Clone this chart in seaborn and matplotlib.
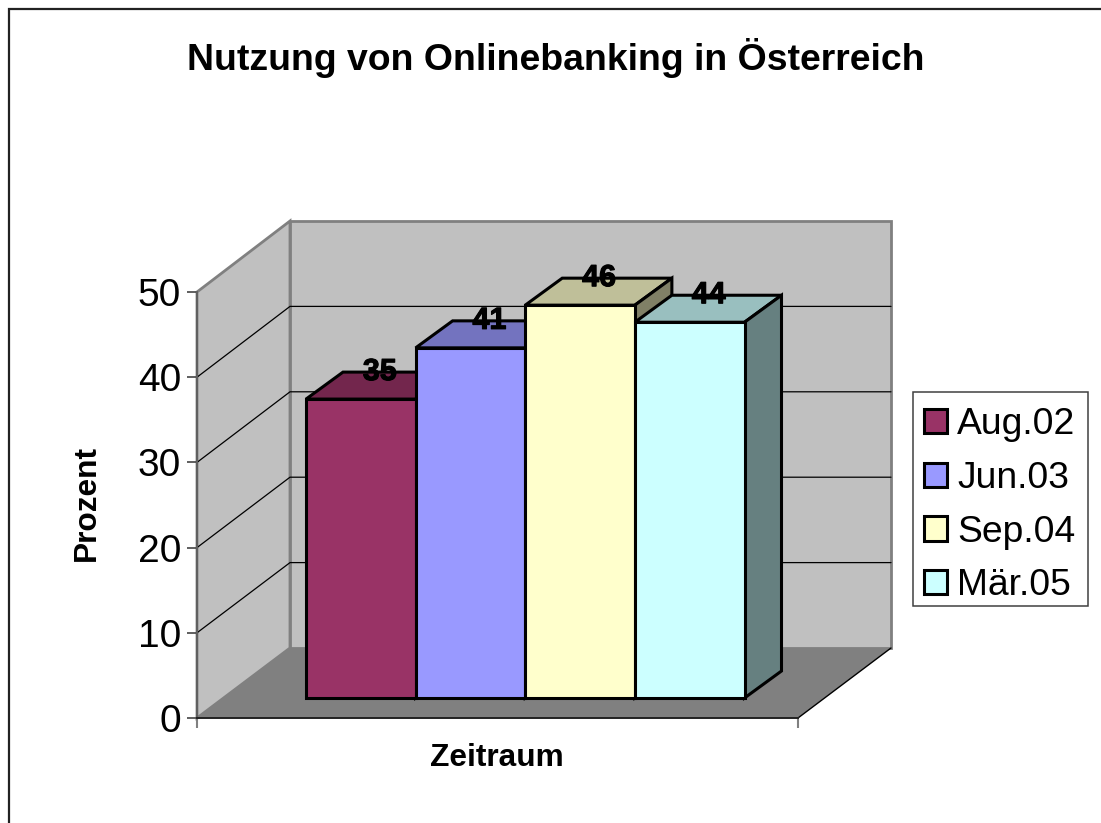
import matplotlib
matplotlib.use("Agg")
import matplotlib.pyplot as plt
import matplotlib.patheffects as pe
import pandas as pd
import seaborn as sns
from matplotlib.colors import to_rgb
from matplotlib.patches import Patch, Polygon, Rectangle
from matplotlib.transforms import IdentityTransform

zeitraum = ["Aug.02", "Jun.03", "Sep.04", "Mär.05"]
prozent = [35, 41, 46, 44]
farben = ["#993366", "#9999FF", "#FFFFCC", "#CCFFFF"]
y_ticks = [0, 10, 20, 30, 40, 50]

W, H = 1101, 823
DEPTH_X, DEPTH_Y = 37, 27  # bar depth in pixels

sns.set_theme(style="white")
plt.rcParams["font.family"] = ["Liberation Sans", "DejaVu Sans"]
plt.rcParams["text.color"] = "black"
plt.rcParams["axes.labelcolor"] = "black"
plt.rcParams["xtick.labelcolor"] = "black"
plt.rcParams["ytick.labelcolor"] = "black"

df = pd.DataFrame({"gruppe": [""] * 4, "zeitraum": zeitraum, "prozent": prozent})


def px_axes(fig, left, right, top, bottom, **kw):
    # axes placed with image pixel coordinates
    return fig.add_axes([left / W, 1 - bottom / H, (right - left) / W, (bottom - top) / H], **kw)


fig = plt.figure(figsize=(W / 100, H / 100), dpi=100, facecolor="white")

# walls and floor, in pixels
bg = px_axes(fig, 0, W, 0, H, zorder=0)
bg.set_xlim(0, W)
bg.set_ylim(H, 0)
bg.set_axis_off()
bg.plot([9, 9, W], [H, 9, 9], color="#222222", lw=1.6, solid_joinstyle="miter")
wall_kw = dict(fc="#C0C0C0", ec="#808080", lw=2.0, joinstyle="miter")
bg.add_patch(Polygon([(197, 718), (197, 292), (290, 221), (290, 648)], **wall_kw))
bg.add_patch(Polygon([(290, 648), (290, 221), (891, 221), (891, 648)], **wall_kw))
bg.add_patch(Polygon([(197, 718), (290, 648), (891, 648), (798, 718)], fc="#808080", ec="none"))
bg.plot([798, 891], [718, 648], color="black", lw=1.0)
bg.add_patch(Rectangle((913, 392), 175, 214, fc="white", ec="#404040", lw=1.1))
for v in y_ticks[1:-1]:
    front_y = 718 - v * 426 / 50
    back_y = 648 - v * 427 / 50
    bg.plot([197, 290, 891], [front_y, back_y, back_y], color="black", lw=0.9, solid_joinstyle="miter")

# value axis on the front plane
front = px_axes(fig, 197, 798, 292, 718, zorder=1)
front.patch.set_visible(False)
front.set_xlim(0, 1)
front.set_ylim(0, 50)
front.set_xticks([0, 1], ["", ""])
front.set_yticks(y_ticks)
front.tick_params(axis="y", length=7, width=1.2, color="#444444", labelsize=28, pad=4.5, left=True)
front.tick_params(axis="x", length=7, width=1.5, color="#808080", bottom=True)
for side in ["top", "right"]:
    front.spines[side].set_visible(False)
front.spines["left"].set_color("#606060")
front.spines["left"].set_linewidth(1.4)
front.spines["bottom"].set_color("#222222")
front.spines["bottom"].set_linewidth(1.4)
front.set_xlabel("Zeitraum", fontsize=22.8, fontweight="bold")
front.xaxis.set_label_coords((497 - 197) / 601, -(758 - 718) / 426, transform=front.transAxes)
front.xaxis.label.set_verticalalignment("center")
front.set_ylabel("Prozent", fontsize=22.8, fontweight="bold")
front.yaxis.set_label_coords((87 - 197) / 601, (718 - 503) / 426, transform=front.transAxes)
front.yaxis.label.set_verticalalignment("center")

# bars: front faces come from seaborn
ax = px_axes(fig, 306, 744.5, 271, 698, zorder=2)
sns.barplot(data=df, x="gruppe", y="prozent", hue="zeitraum", hue_order=zeitraum, palette=farben,
            width=1, gap=0, saturation=1, edgecolor="black", linewidth=2.2, legend=False, ax=ax)
ax.set_xlim(-0.5, 0.5)
ax.set_ylim(0, 50)
ax.set_axis_off()


def shade(color, factor):
    return tuple(c * factor for c in to_rgb(color))


# top and side faces extruded from each seaborn bar
for i, (bar, farbe) in enumerate(zip(ax.patches, farben)):
    x0, x1 = bar.get_x(), bar.get_x() + bar.get_width()
    h = bar.get_height()
    (l, b), (r, t) = ax.transData.transform([(x0, 0), (x1, h)])
    bar.set_zorder(10 + 2 * i + 1)
    bar.set_clip_on(False)
    bar.set_joinstyle("miter")
    face_kw = dict(ec="black", lw=2.2, transform=IdentityTransform(), clip_on=False,
                   zorder=10 + 2 * i, joinstyle="miter")
    ax.add_patch(Polygon([(l, t), (l + DEPTH_X, t + DEPTH_Y), (r + DEPTH_X, t + DEPTH_Y), (r, t)],
                         fc=shade(farbe, 0.75), **face_kw))
    ax.add_patch(Polygon([(r, t), (r + DEPTH_X, t + DEPTH_Y), (r + DEPTH_X, b + DEPTH_Y), (r, b)],
                         fc=shade(farbe, 0.5), **face_kw))
    ax.text((l + r) / 2 + 19, t + DEPTH_Y, str(prozent[i]), transform=IdentityTransform(),
            ha="center", va="center", fontsize=22, fontweight="bold", color="black", zorder=30,
            clip_on=False, path_effects=[pe.withStroke(linewidth=0.8, foreground="black")])

handles = [Patch(fc=f, ec="black", lw=2.2) for f in farben]
fig.legend(handles, zeitraum, loc="upper left", bbox_to_anchor=(912 / W, 1 - 395 / H), borderaxespad=0,
           fontsize=26.8, frameon=False, handlelength=0.62, handleheight=0.62, handletextpad=0.27,
           labelspacing=0.506, borderpad=0.32)

fig.text(556 / W, 1 - 58 / H, "Nutzung von Onlinebanking in Österreich", ha="center", va="center",
         fontsize=26.9, fontweight="bold", color="black")

fig.savefig("out.png", dpi=100)
